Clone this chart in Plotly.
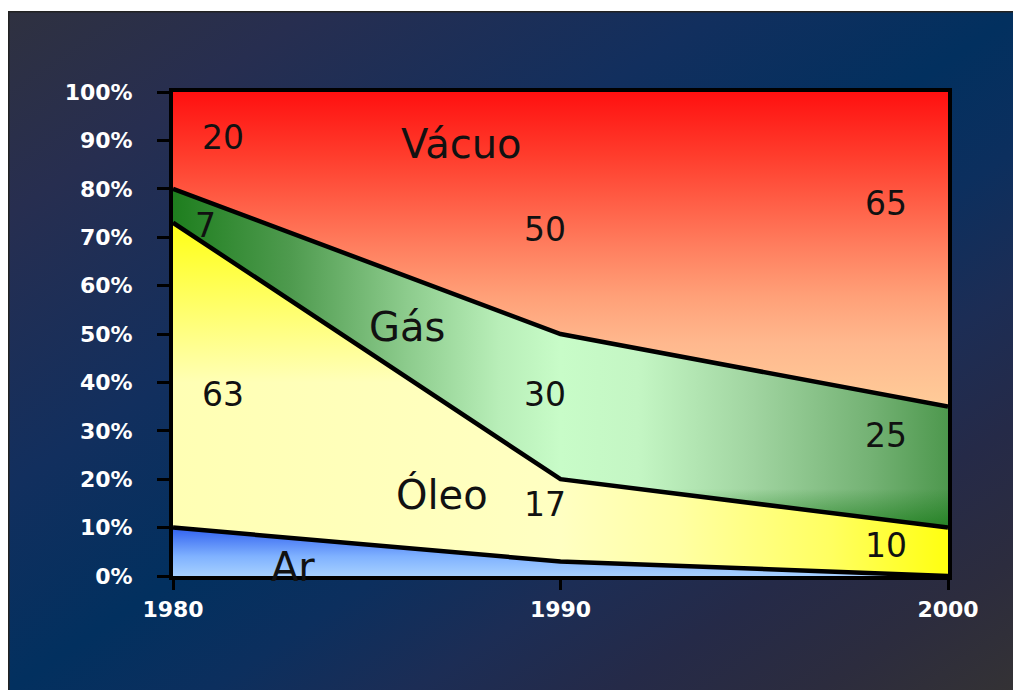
import base64
import numpy as np
import plotly.graph_objects as go

# ---------------- data ----------------
years = [1980, 1990, 2000]
ar = [10, 3, 0]
oleo = [63, 17, 10]
gas = [7, 30, 25]
vacuo = [20, 50, 65]
series_names = ["Ar", "Óleo", "Gás", "Vácuo"]
x_ticks = [1980, 1990, 2000]
y_ticks = list(range(0, 101, 10))
y_tick_labels = [f"{v}%" for v in y_ticks]

# ---------------- figure geometry (page body adds an 8px offset) ----------------
W, H = 1021, 690
ML, MR, MT, MB = 165, 81, 84, 122
PW, PH = W - ML - MR, H - MT - MB

series = [ar, oleo, gas, vacuo]
cum = np.cumsum(np.array(series, dtype=float), axis=0)
lower = np.vstack([np.zeros(len(years)), cum[:-1]])

grad_base = {
    "Ar": dict(type="vertical", start=0, stop=10,
               colorscale=[[0, "#A6D0FF"], [0.4, "#80B2FF"], [1, "#3060F0"]]),
    "Óleo": dict(type="horizontal",
                 colorscale=[[0, "#FFFFB4"], [0.5, "#FFFFC2"], [0.65, "#FFFFA4"],
                             [0.85, "#FFFF60"], [1, "#FFFF10"]]),
    "Gás": dict(type="horizontal",
                colorscale=[[0, "#1E7E1E"], [0.15, "#4E9A4E"], [0.3, "#8CCB8C"],
                            [0.42, "#B8EEB8"], [0.5, "#C8FCC8"], [0.6, "#C4F6C4"],
                            [0.75, "#A0D4A0"], [0.9, "#74B274"], [1, "#4E984E"]]),
    "Vácuo": dict(type="vertical", start=35, stop=100,
                  colorscale=[[0, "#FFCC99"], [0.2, "#FFB88E"], [0.35, "#FFA078"],
                              [0.5, "#FF8060"], [0.8, "#FF3C2C"], [1, "#FF1010"]]),
}
grad_overlay = {
    "Óleo": dict(type="vertical", start=40, stop=73,
                 colorscale=[[0, "rgba(255,255,20,0)"], [1, "rgba(255,255,20,1)"]]),
    "Gás": dict(type="vertical", start=10, stop=18,
                colorscale=[[0, "rgba(10,115,10,0.6)"], [1, "rgba(10,115,10,0)"]]),
}

fig = go.Figure()
for i, name in enumerate(series_names):
    px = years + years[::-1]
    py = list(cum[i]) + list(lower[i][::-1])
    fig.add_trace(go.Scatter(x=px, y=py, fill="toself", mode="none",
                             fillgradient=grad_base[name], hoverinfo="skip",
                             showlegend=False, name=name))
    if name in grad_overlay:
        fig.add_trace(go.Scatter(x=px, y=py, fill="toself", mode="none",
                                 fillgradient=grad_overlay[name], hoverinfo="skip",
                                 showlegend=False))

# boundary lines
for i, name in enumerate(series_names[:-1]):
    fig.add_trace(go.Scatter(x=years, y=cum[i], mode="lines",
                             line=dict(color="black", width=4.5),
                             hoverinfo="skip", showlegend=False))

# ---------------- labels ----------------
value_label_pos = {
    "Vácuo": [(1981.3, 90.5), (1989.6, 71.5), (1998.4, 76.9)],
    "Gás": [(1980.85, 72.5), (1989.6, 37.4), (1998.4, 29.1)],
    "Óleo": [(1981.3, 37.4), (1989.6, 14.7), (1998.4, 6.4)],
}
name_label_pos = {
    "Vácuo": (1987.45, 89.3),
    "Gás": (1986.05, 51.4),
    "Óleo": (1986.95, 16.8),
    "Ar": (1983.1, 1.9),
}
annotations = []
for name, vals in zip(series_names, series):
    if name in value_label_pos:
        for (ax, ay), v in zip(value_label_pos[name], vals):
            annotations.append(dict(x=ax, y=ay, text=str(v), showarrow=False,
                                    font=dict(family="DejaVu Sans", size=33, color="#111111"),
                                    xanchor="center", yanchor="middle"))
    nx, ny = name_label_pos[name]
    annotations.append(dict(x=nx, y=ny, text=name, showarrow=False,
                            font=dict(family="DejaVu Sans", size=40, color="#111111"),
                            xanchor="center", yanchor="middle"))

# ---------------- background (decoration) ----------------
bw, bh = W, H - 3
stops = [(0, "#2F3140"), (0.15, "#272E50"), (0.35, "#122F5E"), (0.5, "#02305F"),
         (0.6, "#0C2F5E"), (0.7, "#1C2D55"), (0.8, "#252A48"), (0.9, "#2C2C3E"),
         (1, "#343234")]
stop_xml = "".join(f'<stop offset="{o}" stop-color="{c}"/>' for o, c in stops)
svg = (f'<svg xmlns="http://www.w3.org/2000/svg" width="{bw}" height="{bh}" '
       f'viewBox="0 0 {bw} {bh}" preserveAspectRatio="none">'
       f'<defs><linearGradient id="g" gradientUnits="userSpaceOnUse" x1="0" y1="0" '
       f'x2="628" y2="937">{stop_xml}</linearGradient></defs>'
       f'<rect width="{bw}" height="{bh}" fill="url(#g)"/>'
       f'<path d="M0.75 {bh} V0.75 H{bw}" stroke="#222" stroke-width="1.5" fill="none"/>'
       f'</svg>')
uri = "data:image/svg+xml;base64," + base64.b64encode(svg.encode()).decode()

fig.add_layout_image(dict(source=uri, xref="paper", yref="paper",
                          x=(0 - ML) / PW, y=(H - MB - 3) / PH,
                          sizex=bw / PW, sizey=bh / PH,
                          xanchor="left", yanchor="top", sizing="stretch",
                          layer="below"))

tick_font = dict(family="DejaVu Sans", size=22, color="white", weight="bold")
fig.update_layout(
    width=W, height=H,
    margin=dict(l=ML, r=MR, t=MT, b=MB, pad=0),
    paper_bgcolor="white",
    plot_bgcolor="rgba(0,0,0,0)",
    showlegend=False,
    annotations=annotations,
    xaxis=dict(range=[1980, 2000], tickvals=x_ticks, ticktext=[str(t) for t in x_ticks],
               showgrid=False, zeroline=False, showline=True, linecolor="black",
               linewidth=4, mirror=True, ticks="outside", ticklen=10, tickwidth=3,
               tickcolor="black", tickfont=tick_font, ticklabelstandoff=1),
    yaxis=dict(range=[0, 100], tickvals=y_ticks, ticktext=y_tick_labels,
               showgrid=False, zeroline=False, showline=True, linecolor="black",
               linewidth=4, mirror=True, ticks="outside", ticklen=12, tickwidth=3,
               tickcolor="black", tickfont=tick_font, ticklabelstandoff=20),
)

fig.write_html("out.html")
